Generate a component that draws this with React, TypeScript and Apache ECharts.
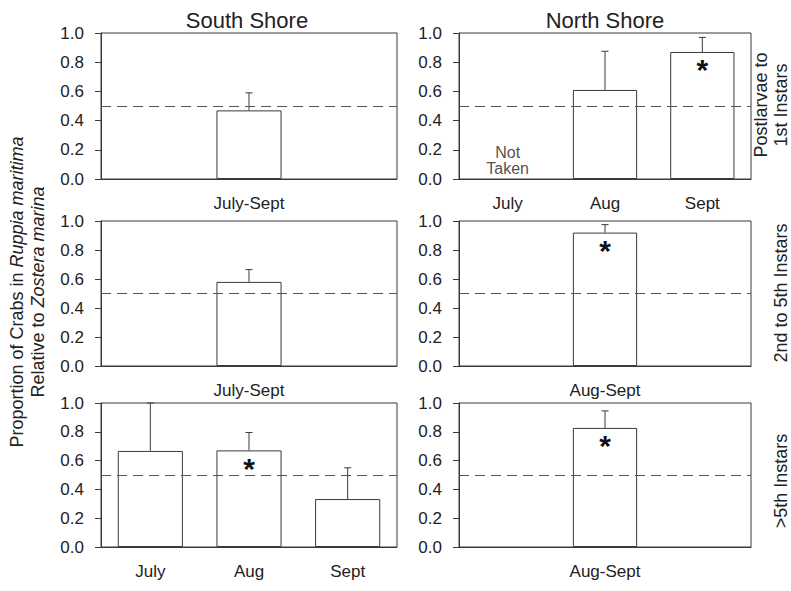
import React, { useEffect, useRef } from 'react';
import * as echarts from 'echarts';

const FONT = '"Liberation Sans", Arial, Helvetica, sans-serif';
const INK = '#222';
const LINE = '#3a3a3a';

// Sampling months shared by every panel
const months = ['July', 'Aug', 'Sept'];
// Proportion of 0.5 = no preference between the two seagrasses
const equalShare = 0.5;

// South Shore, postlarvae to 1st instars (months pooled)
const spLabels = ['', 'July-Sept', ''];
const spMean = [null, 0.47, null];
const spUpper = [null, 0.59, null];
const spSig = [false, false, false];

// North Shore, postlarvae to 1st instars
const npLabels = ['July', 'Aug', 'Sept'];
const npMean = [null, 0.61, 0.87];
const npUpper = [null, 0.875, 0.97];
const npSig = [false, false, true];
const npNote = ['Not\nTaken', '', ''];

// South Shore, 2nd to 5th instars (months pooled)
const smLabels = ['', 'July-Sept', ''];
const smMean = [null, 0.58, null];
const smUpper = [null, 0.665, null];
const smSig = [false, false, false];

// North Shore, 2nd to 5th instars (months pooled)
const nmLabels = ['', 'Aug-Sept', ''];
const nmMean = [null, 0.92, null];
const nmUpper = [null, 0.975, null];
const nmSig = [false, true, false];

// South Shore, >5th instars
const slLabels = ['July', 'Aug', 'Sept'];
const slMean = [0.667, 0.671, 0.333];
const slUpper = [1.0, 0.795, 0.55];
const slSig = [false, true, false];

// North Shore, >5th instars (months pooled)
const nlLabels = ['', 'Aug-Sept', ''];
const nlMean = [null, 0.827, null];
const nlUpper = [null, 0.945, null];
const nlSig = [false, true, false];

type Panel = {
  labels: string[];
  mean: (number | null)[];
  upper: (number | null)[];
  sig: boolean[];
  note?: string[];
};

const panels: Panel[] = [
  { labels: spLabels, mean: spMean, upper: spUpper, sig: spSig },
  { labels: npLabels, mean: npMean, upper: npUpper, sig: npSig, note: npNote },
  { labels: smLabels, mean: smMean, upper: smUpper, sig: smSig },
  { labels: nmLabels, mean: nmMean, upper: nmUpper, sig: nmSig },
  { labels: slLabels, mean: slMean, upper: slUpper, sig: slSig },
  { labels: nlLabels, mean: nlMean, upper: nlUpper, sig: nlSig },
];

// Plot boxes: two columns (South, North) by three rows (size classes)
const colLeft = [101, 459];
const colWidth = [296, 292];
const rowTop = [33, 221, 403];
const rowHeight = [146, 145, 144];

function buildOption() {
  const grid: any[] = [];
  const xAxis: any[] = [];
  const yAxis: any[] = [];
  const series: any[] = [];

  panels.forEach((p, i) => {
    const col = i % 2;
    const row = Math.floor(i / 2);
    grid.push({
      left: colLeft[col],
      top: rowTop[row],
      width: colWidth[col],
      height: rowHeight[row],
      show: true,
      borderColor: LINE,
      borderWidth: 1,
      backgroundColor: 'transparent',
    });
    xAxis.push({
      type: 'category',
      gridIndex: i,
      data: months,
      axisLine: { lineStyle: { color: LINE, width: 1 } },
      axisTick: { alignWithLabel: true, length: 6, lineStyle: { color: LINE } },
      axisLabel: {
        margin: 16,
        fontSize: 17,
        fontWeight: 'normal',
        fontFamily: FONT,
        color: INK,
        interval: 0,
        formatter: (_v: string, idx: number) => p.labels[idx],
      },
      splitLine: { show: false },
    });
    yAxis.push({
      type: 'value',
      gridIndex: i,
      min: 0,
      max: 1,
      interval: 0.2,
      axisLine: { show: true, lineStyle: { color: LINE, width: 1 } },
      axisTick: { show: true, length: 6, lineStyle: { color: LINE } },
      axisLabel: {
        margin: 17,
        fontSize: 17,
        fontWeight: 'normal',
        fontFamily: FONT,
        color: INK,
        formatter: (v: number) => v.toFixed(1),
      },
      splitLine: { show: false },
    });

    series.push({
      type: 'bar',
      xAxisIndex: i,
      yAxisIndex: i,
      data: p.mean,
      barWidth: '66%',
      silent: true,
      itemStyle: { color: '#fff', borderColor: LINE, borderWidth: 1 },
      label: {
        show: true,
        position: 'insideTop',
        distance: 3,
        fontSize: 30,
        fontWeight: 'bold',
        fontFamily: FONT,
        color: '#111',
        formatter: (prm: any) => (p.sig[prm.dataIndex] ? '*' : ''),
      },
      markLine: {
        silent: true,
        symbol: 'none',
        label: { show: false },
        lineStyle: { type: [10, 6], color: '#555', width: 1 },
        data: [{ yAxis: equalShare }],
      },
      z: 2,
    });

    const errData = p.mean
      .map((m, k) => (m == null || p.upper[k] == null ? null : [k, m, p.upper[k]]))
      .filter((d) => d !== null);
    series.push({
      type: 'custom',
      xAxisIndex: i,
      yAxisIndex: i,
      silent: true,
      z: 3,
      encode: { x: 0, y: [1, 2] },
      data: errData,
      renderItem: (_params: any, api: any) => {
        const x = api.value(0);
        const base = api.coord([x, api.value(1)]);
        const top = api.coord([x, api.value(2)]);
        const style = { stroke: LINE, lineWidth: 1 };
        return {
          type: 'group',
          children: [
            { type: 'line', shape: { x1: base[0], y1: base[1], x2: top[0], y2: top[1] }, style },
            { type: 'line', shape: { x1: top[0] - 3.5, y1: top[1], x2: top[0] + 3.5, y2: top[1] }, style },
          ],
        };
      },
    });

    if (p.note) {
      const noteData = p.note
        .map((t, k) => (t ? [k, 0] : null))
        .filter((d) => d !== null);
      series.push({
        type: 'scatter',
        xAxisIndex: i,
        yAxisIndex: i,
        silent: true,
        symbolSize: 0,
        data: noteData,
        label: {
          show: true,
          position: 'top',
          distance: 3,
          fontSize: 16,
          lineHeight: 16,
          fontFamily: FONT,
          color: INK,
          align: 'center',
          formatter: (prm: any) => p.note![prm.data[0]],
        },
      });
    }
  });

  const txt = (x: number, y: number, text: string, size: number, rotate = false, extra: any = {}) => ({
    type: 'text',
    x,
    y,
    rotation: rotate ? Math.PI / 2 : 0,
    silent: true,
    style: {
      text,
      fontSize: size,
      fontFamily: FONT,
      fill: INK,
      align: 'center',
      verticalAlign: 'middle',
      ...extra,
    },
  });

  const richStyles = {
    n: { fontSize: 18, fontFamily: FONT, fill: INK },
    i: { fontSize: 18, fontFamily: FONT, fill: INK, fontStyle: 'italic' },
  };

  const graphic = [
    txt(247, 20, 'South Shore', 22),
    txt(605, 20, 'North Shore', 22),
    txt(771, 105, 'Postlarvae to\n1st Instars', 18, true, { lineHeight: 20 }),
    txt(781, 293, '2nd to 5th Instars', 18, true),
    txt(781, 481, '>5th Instars', 18, true),
    txt(17, 292, '{n|Proportion of Crabs in }{i|Ruppia maritima}', 18, true, { rich: richStyles }),
    txt(38, 292, '{n|Relative to }{i|Zostera marina}', 18, true, { rich: richStyles }),
  ];

  return {
    animation: false,
    backgroundColor: '#fff',
    grid,
    xAxis,
    yAxis,
    series,
    graphic,
  };
}

export default function App() {
  const ref = useRef<HTMLDivElement>(null);
  useEffect(() => {
    if (!ref.current) return;
    const chart = echarts.init(ref.current, undefined, { renderer: 'svg' });
    chart.setOption(buildOption());
    return () => chart.dispose();
  }, []);
  return <div ref={ref} style={{ width: 791, height: 591, position: 'absolute', left: 0, top: 0 }} />;
}
